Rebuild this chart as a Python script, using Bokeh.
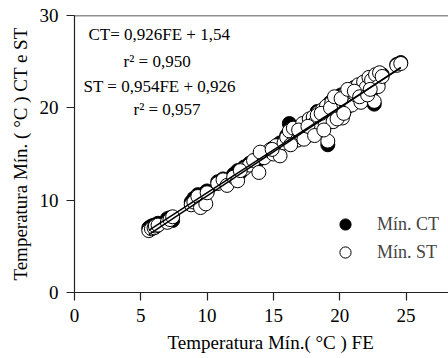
from bokeh.plotting import figure
from bokeh.models import Range1d, FixedTicker, Label, Legend, LegendItem, Span, ColumnDataSource, Title
from bokeh.embed import file_html
from bokeh.resources import INLINE

fe = [5.6, 5.8, 6.0, 6.1, 6.3, 7.0, 7.2, 7.4, 8.8, 9.0, 9.3, 9.5, 9.9, 10.0, 10.8, 11.2, 11.5,
      12.0, 12.3, 12.8, 13.2, 13.5, 13.9, 14.3, 14.7, 15.0, 15.2, 15.5, 15.8, 16.0, 16.2, 16.5,
      16.8, 17.0, 17.2, 17.5, 17.7, 17.9, 18.0, 18.2, 18.4, 18.5, 18.7, 18.9, 19.0, 19.1, 19.2,
      19.4, 19.5, 19.7, 19.9, 20.0, 20.2, 20.4, 20.5, 20.7, 20.9, 21.0, 21.2, 21.4, 21.6, 21.8,
      22.0, 22.2, 22.4, 22.6, 22.7, 22.9, 23.0, 24.3, 24.6,
      16.3, 16.9, 17.3, 17.6, 18.1, 18.3, 18.6, 18.8, 19.3, 19.6, 19.8, 20.1, 20.3, 20.6, 21.1,
      21.5, 22.1, 22.3, 23.2, 12.5, 14.0, 14.9]
ct = [7.0, 7.2, 7.3, 7.1, 7.5, 8.0, 8.1, 7.8, 9.8, 10.2, 10.6, 10.4, 10.9, 11.0, 12.0, 12.3, 12.1,
      12.8, 13.2, 13.6, 14.0, 14.2, 14.4, 14.8, 15.1, 15.5, 15.8, 16.2, 16.4, 17.0, 18.3, 17.3,
      17.0, 17.6, 18.0, 17.8, 18.4, 18.2, 18.8, 18.0, 19.2, 18.6, 19.5, 18.9, 19.8, 16.0, 20.2,
      19.4, 19.0, 20.5, 20.0, 20.8, 19.8, 21.0, 20.5, 21.3, 20.8, 21.5, 21.0, 21.8, 21.2, 22.3,
      21.8, 23.0, 22.5, 20.4, 23.4, 22.8, 23.3, 24.7, 24.9,
      17.1, 17.9, 17.2, 18.6, 17.6, 19.6, 19.0, 18.4, 20.6, 20.2, 19.0, 21.4, 20.0, 21.8, 22.2,
      21.0, 22.6, 21.5, 23.6, 13.0, 14.9, 15.6]
st = [6.7, 6.9, 7.0, 7.2, 7.3, 7.6, 7.9, 8.2, 9.5, 9.8, 10.4, 9.2, 9.6, 10.8, 11.8, 12.2, 11.6,
      12.5, 12.1, 13.4, 13.8, 14.3, 13.0, 14.6, 15.4, 15.0, 15.9, 14.8, 16.2, 16.8, 17.5, 17.8,
      16.5, 17.2, 18.3, 16.9, 18.8, 17.5, 19.0, 18.5, 19.5, 17.8, 19.8, 18.2, 20.2, 16.4, 19.6,
      20.6, 18.5, 21.0, 19.5, 20.4, 18.9, 21.5, 20.0, 21.8, 20.3, 22.1, 21.4, 22.5, 20.6, 22.8,
      22.2, 23.3, 23.0, 20.7, 23.6, 22.3, 23.8, 24.6, 24.8,
      16.0, 17.6, 16.6, 18.0, 17.0, 19.2, 19.4, 17.6, 20.0, 21.2, 18.8, 21.0, 19.4, 22.0, 21.8,
      21.2, 21.4, 22.0, 23.4, 13.2, 15.2, 15.5]

ct_coef = [0.926, 1.54]
st_coef = [0.954, 0.926]
x_ticks = [0, 5, 10, 15, 20, 25, 30]
y_ticks = [0, 10, 20, 30]

SERIF = "Liberation Serif"

p = figure(width=448, height=358, output_backend="svg", toolbar_location=None,
           x_range=Range1d(0, 28.2), y_range=Range1d(0, 30),
           min_border_left=74, min_border_right=0, min_border_top=15, min_border_bottom=66)
p.outline_line_color = None
p.grid.visible = False
p.background_fill_color = "white"

for ax in (p.xaxis[0], p.yaxis[0]):
    ax.axis_line_color = "#222222"
    ax.axis_line_width = 1.2
    ax.major_tick_line_color = "#222222"
    ax.major_tick_line_width = 1.2
    ax.major_tick_out = 8
    ax.major_tick_in = 0
    ax.minor_tick_line_color = None
    ax.major_label_text_font = SERIF
    ax.major_label_text_font_size = "19px"
    ax.major_label_text_color = "black"
    ax.axis_label_text_font = SERIF
    ax.axis_label_text_font_size = "19px"
    ax.axis_label_text_font_style = "normal"
    ax.axis_label_text_color = "black"

p.xaxis.ticker = FixedTicker(ticks=x_ticks)
p.yaxis.ticker = FixedTicker(ticks=y_ticks)
p.yaxis.axis_label = "Temperatura Mín. ( °C ) CT e ST"
p.xaxis.major_label_standoff = 8
p.yaxis.major_label_standoff = 8
p.yaxis.axis_label_standoff = 6

xlabel = Title(text="Temperatura Mín.( °C ) FE", align="left", offset=93, standoff=11,
               text_font=SERIF, text_font_size="19px", text_font_style="normal",
               text_color="black")
p.add_layout(xlabel, "below")

p.add_layout(Span(location=30, dimension="width", line_color="#222222", line_width=1.5))

src = ColumnDataSource(dict(fe=fe, ct=ct, st=st))
r_ct = p.scatter("fe", "ct", source=src, size=14, fill_color="black", line_color="black", line_width=1)
r_st = p.scatter("fe", "st", source=src, size=14, fill_color="white", line_color="black", line_width=1)

lx = [min(fe), max(fe)]
p.line(lx, [ct_coef[0] * v + ct_coef[1] for v in lx], line_color="black", line_width=1.5)
p.line(lx, [st_coef[0] * v + st_coef[1] for v in lx], line_color="black", line_width=1.5)

legend = Legend(items=[LegendItem(label="Mín. CT", renderers=[r_ct]),
                       LegendItem(label="Mín. ST", renderers=[r_st])],
                location=(257, 26), border_line_color=None, background_fill_alpha=0,
                label_text_font=SERIF, label_text_font_size="18px",
                glyph_width=28, glyph_height=28,
                label_standoff=18, spacing=0, padding=0)
p.add_layout(legend)

texts = [("CT= 0,926FE + 1,54", 1.05, 27.95),
         ("r² = 0,950", 3.7, 25.0),
         ("ST = 0,954FE  +  0,926", 0.68, 22.3),
         ("r² = 0,957", 4.45, 19.8)]
for t, x, y in texts:
    p.add_layout(Label(x=x, y=y, text=t, text_font=SERIF, text_font_size="17px",
                       text_color="black", text_baseline="middle"))

open("out.html", "w").write(file_html(p, INLINE))
